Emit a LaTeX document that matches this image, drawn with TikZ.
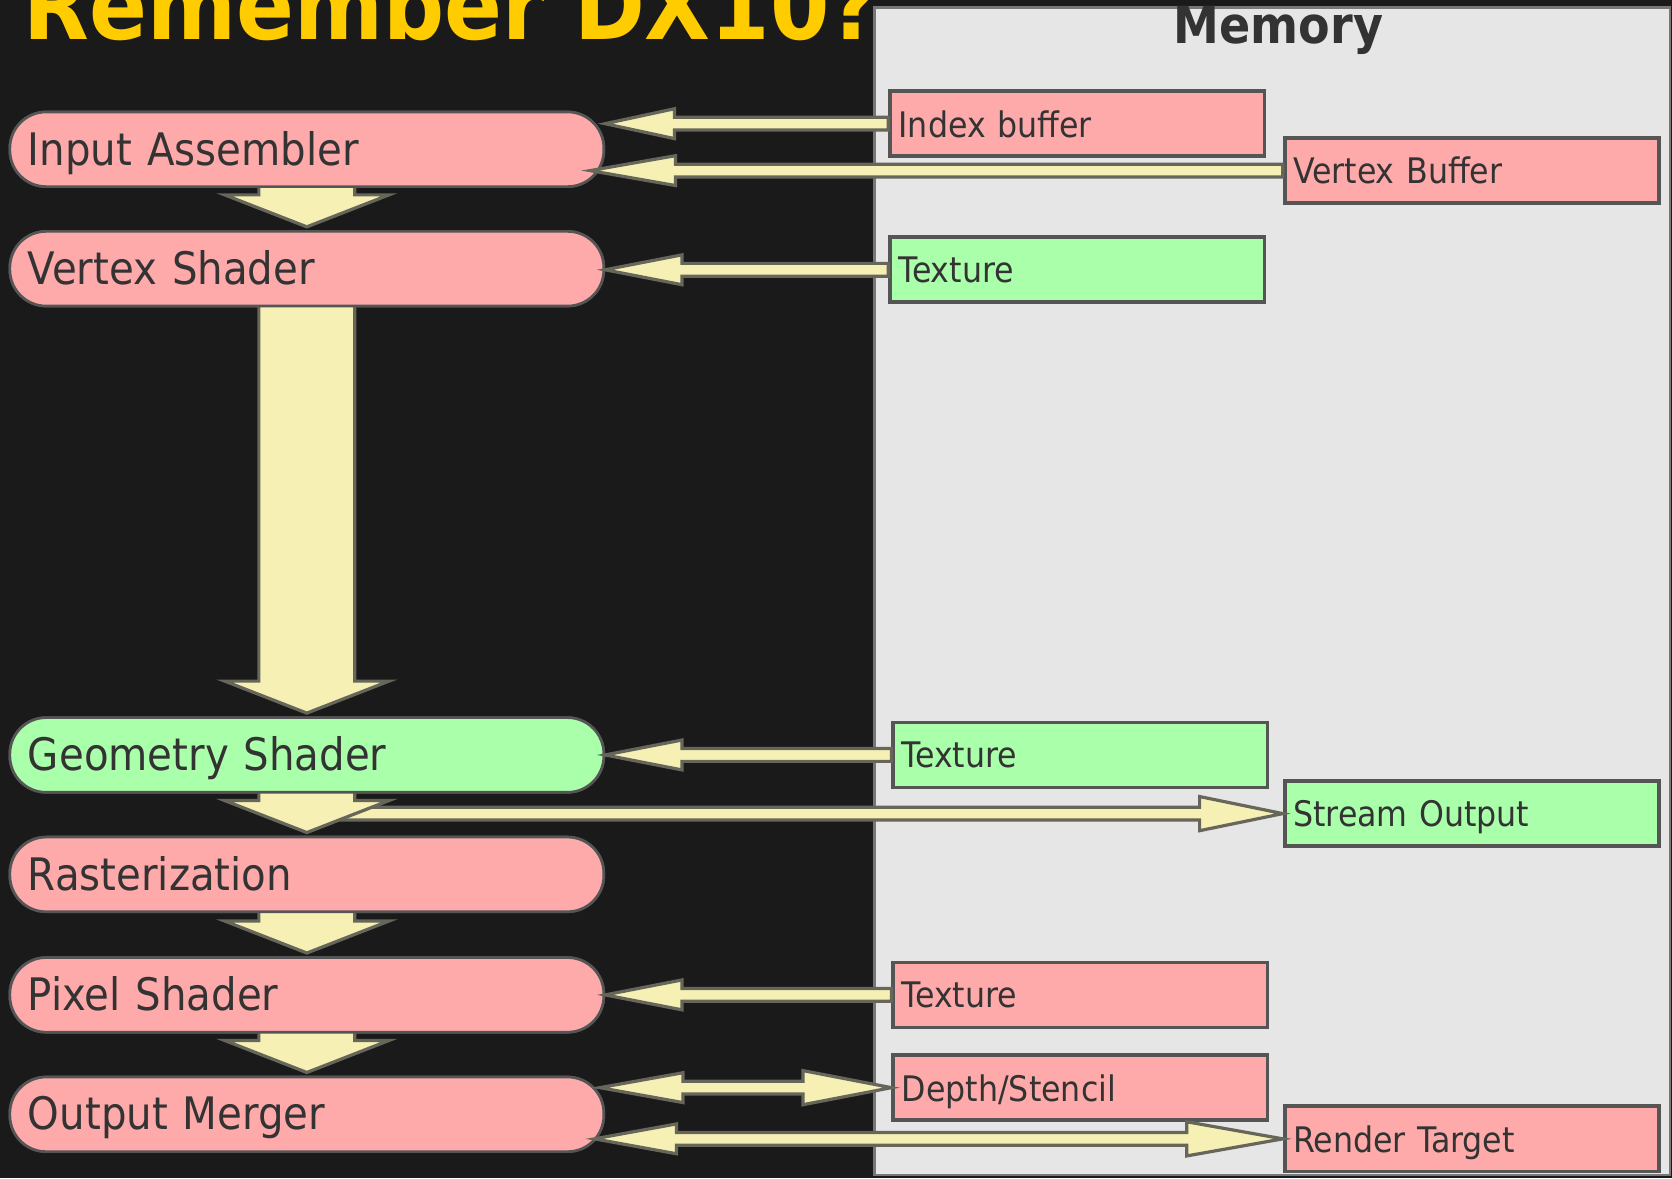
\documentclass[tikz,border=0pt]{standalone}
\usepackage{fontspec}
\setmainfont{DejaVu Sans Condensed}
\usetikzlibrary{calc}

\definecolor{bgdark}{HTML}{1A1A1A}
\definecolor{memgray}{HTML}{E6E6E6}
\definecolor{titleyellow}{HTML}{FFCC00}
\definecolor{pinkfill}{HTML}{FFAAAA}
\definecolor{greenfill}{HTML}{AAFFAA}
\definecolor{flowfill}{HTML}{F7F0B5}
\definecolor{flowline}{HTML}{66665A}
\definecolor{edgegray}{HTML}{555555}
\definecolor{inkgray}{HTML}{333333}

\tikzset{
  stage/.style={draw=edgegray, line width=2.5pt, fill=pinkfill, rounded corners=34pt,
    anchor=west, minimum height=70pt, inner xsep=17pt, text width=523pt, align=left,
    text depth=2pt, text=inkgray, font=\fontsize{42}{46}\selectfont},
  buffer/.style={draw=edgegray, line width=3.5pt, fill=pinkfill, anchor=west,
    minimum height=61pt, inner xsep=8pt, text width=335pt, align=left,
    text depth=0pt, text=inkgray, font=\fontsize{33}{36}\selectfont},
  flow/.style={draw=flowline, fill=flowfill, line width=3pt, line join=miter}
}

% wide arrow between two stages
\newcommand{\stagearrow}[2]{%
  \draw[flow] let \p1=(#1), \p2=(#2) in
    (\x1-45pt,\y1+5pt) -- (\x1-45pt,\y2+33pt) -- (\x1-77pt,\y2+33pt) -- (\x1,\y2+3pt)
    -- (\x1+77pt,\y2+33pt) -- (\x1+45pt,\y2+33pt) -- (\x1+45pt,\y1+5pt) -- cycle;}
% thin arrow: tip, tail, head length, head half height
\newcommand{\flowarrow}[4]{%
  \draw[flow] let \p1=(#1), \p2=(#2), \n1={sign(\x2-\x1)} in
    (\x1,\y1) -- (\x1+\n1*#3,\y1+#4) -- (\x1+\n1*#3,\y1+6pt) -- (\x2,\y1+6pt)
    -- (\x2,\y1-6pt) -- (\x1+\n1*#3,\y1-6pt) -- (\x1+\n1*#3,\y1-#4) -- cycle;}
% thin arrow with two heads: left tip, right tip, left and right head length
\newcommand{\dflowarrow}[4]{%
  \draw[flow] let \p1=(#1), \p2=(#2) in
    (\x1,\y1) -- (\x1+#3,\y1+14pt) -- (\x1+#3,\y1+6pt) -- (\x2-#4,\y1+6pt)
    -- (\x2-#4,\y1+16pt) -- (\x2,\y1) -- (\x2-#4,\y1-16pt) -- (\x2-#4,\y1-6pt)
    -- (\x1+#3,\y1-6pt) -- (\x1+#3,\y1-14pt) -- cycle;}

\begin{document}
\begin{tikzpicture}[x=1pt, y=-1pt]
  \useasboundingbox (0,0) rectangle (1568,1105);
  \fill[bgdark] (0,0) rectangle (1568,1105);

  % Memory panel on the right
  \draw[edgegray!80, line width=2.5pt, fill=memgray] (820,7) rectangle (1566,1102);
  \node[anchor=base, text=inkgray, font=\bfseries\fontsize{48}{50}\selectfont] (memtitle) at (1199,41) {Memory};

  % Title
  \node[anchor=base west, inner sep=0pt, text=titleyellow, font=\bfseries\fontsize{89}{90}\selectfont] (title) at (22,37) {Remember DX10?};

  % Stages (placed first as coordinates, drawn after the wide arrows)
  \path (8,140) node[stage] (IA) {Input Assembler}
        (8,252) node[stage] (VS) {Vertex Shader}
        (8,708) node[stage, fill=greenfill] (GS) {Geometry Shader}
        (8,820) node[stage] (RA) {Rasterization}
        (8,933) node[stage] (PS) {Pixel Shader}
        (8,1045) node[stage] (OM) {Output Merger};

  % Buffers in memory
  \node[buffer] (IB) at (833,116) {Index buffer};
  \node[buffer] (VB) at (1203,160) {Vertex Buffer};
  \node[buffer, fill=greenfill] (TXa) at (833,253) {Texture};
  \node[buffer, fill=greenfill] (TXb) at (836,708) {Texture};
  \node[buffer, fill=greenfill] (SO) at (1203,763) {Stream Output};
  \node[buffer] (TXc) at (836,933) {Texture};
  \node[buffer] (DS) at (836,1020) {Depth/Stencil};
  \node[buffer] (RT) at (1203,1068) {Render Target};

  % Stream output leaves from the geometry stage
  \flowarrow{SO.west}{GS.south |- SO.west}{78pt}{16pt}

  % Wide arrows down the pipeline
  \stagearrow{IA.south}{VS.north}
  \stagearrow{VS.south}{GS.north}
  \stagearrow{GS.south}{RA.north}
  \stagearrow{RA.south}{PS.north}
  \stagearrow{PS.south}{OM.north}

  % redraw the stages over the arrow tails
  \path (8,140) node[stage] {Input Assembler}
        (8,252) node[stage] {Vertex Shader}
        (8,708) node[stage, fill=greenfill] {Geometry Shader}
        (8,820) node[stage] {Rasterization}
        (8,933) node[stage] {Pixel Shader}
        (8,1045) node[stage] {Output Merger};

  % Reads from memory
  \flowarrow{IA.east |- IB.west}{IB.west}{65pt}{14pt}
  \flowarrow{$(IA.east |- VB.west)+(-14,0)$}{VB.west}{80pt}{14pt}
  \flowarrow{VS.east |- TXa.west}{TXa.west}{72pt}{14pt}
  \flowarrow{GS.east |- TXb.west}{TXb.west}{72pt}{14pt}
  \flowarrow{PS.east |- TXc.west}{TXc.west}{72pt}{14pt}

  % Read and write
  \dflowarrow{$(OM.east |- DS.west)+(-5,0)$}{DS.west}{78pt}{83pt}
  \dflowarrow{$(OM.east |- RT.west)+(-10,0)$}{RT.west}{77pt}{90pt}
\end{tikzpicture}
\end{document}
